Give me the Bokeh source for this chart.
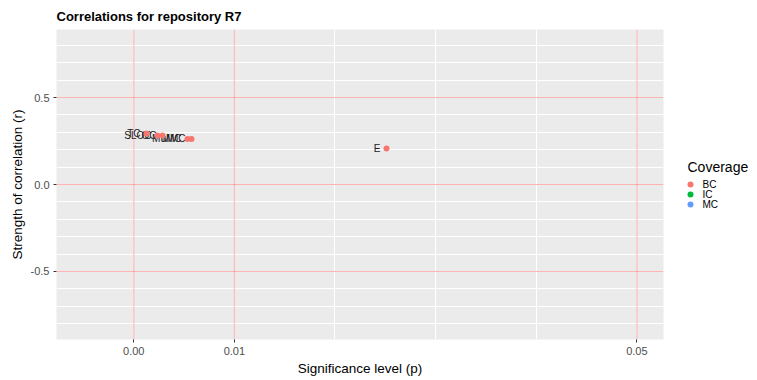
from bokeh.plotting import figure
from bokeh.layouts import row
from bokeh.models import (Range1d, FixedTicker, NumeralTickFormatter, Span,
                          ColumnDataSource)
from bokeh.core.properties import value
from bokeh.embed import file_html
from bokeh.resources import INLINE

# Correlation results for repository R7
metrics = ["TC", "SLOC", "OC", "MuMC", "MMC", "E"]
p_values = [0.00127, 0.00236, 0.00286, 0.00534, 0.00574, 0.02512]
r_values = [0.293, 0.282, 0.282, 0.262, 0.262, 0.207]
coverage = ["BC", "BC", "BC", "BC", "BC", "BC"]

coverage_levels = ["BC", "IC", "MC"]
coverage_colors = ["#F8766D", "#00BA38", "#619CFF"]

x_ticks = [0.0, 0.01, 0.05]
y_ticks = [-0.5, 0.0, 0.5]
x_grid = [0.0, 0.01, 0.02, 0.03, 0.04, 0.05]
y_grid = [-0.8, -0.7, -0.6, -0.5, -0.4, -0.3, -0.2, -0.1, 0.0,
          0.1, 0.2, 0.3, 0.4, 0.5, 0.6, 0.7, 0.8]
p_refs = [0.0, 0.01, 0.05]
r_refs = [-0.5, 0.0, 0.5]

FONT = "Liberation Sans"
color_of = dict(zip(coverage_levels, coverage_colors))

fig = figure(width=665, height=380, output_backend="svg", toolbar_location=None,
             x_range=Range1d(-0.00768, 0.05265), y_range=Range1d(-0.891, 0.891),
             min_border_left=56, min_border_right=2, min_border_top=29,
             min_border_bottom=41,
             x_axis_label="Significance level (p)",
             y_axis_label="Strength of correlation (r)",
             title="Correlations for repository R7")

fig.background_fill_color = "#EBEBEB"
fig.border_fill_color = "white"
fig.outline_line_color = None

# title
fig.title.text_font = FONT
fig.title.text_font_size = "13px"
fig.title.text_font_style = "bold"
fig.title.text_color = "#000000"
fig.title.align = "left"
fig.title.standoff = 11

# grid
fig.xgrid.ticker = FixedTicker(ticks=x_grid)
fig.ygrid.ticker = FixedTicker(ticks=y_grid)
for g in (fig.xgrid, fig.ygrid):
    g.grid_line_color = "white"
    g.grid_line_width = 1
    g.minor_grid_line_color = None

# axes
fig.xaxis.ticker = FixedTicker(ticks=x_ticks)
fig.yaxis.ticker = FixedTicker(ticks=y_ticks)
fig.xaxis.formatter = NumeralTickFormatter(format="0.00")
fig.yaxis.formatter = NumeralTickFormatter(format="0.0")
for ax in (fig.xaxis, fig.yaxis):
    ax.axis_line_color = None
    ax.major_tick_line_color = "#333333"
    ax.major_tick_out = 3
    ax.major_tick_in = 0
    ax.minor_tick_line_color = None
    ax.major_label_text_font = FONT
    ax.major_label_text_font_size = "11px"
    ax.major_label_text_color = "#4D4D4D"
    ax.major_label_standoff = 4
    ax.axis_label_text_font = FONT
    ax.axis_label_text_font_size = "13.5px"
    ax.axis_label_text_font_style = "normal"
    ax.axis_label_text_color = "#000000"
    ax.axis_label_standoff = 3

# reference lines
for v in p_refs:
    fig.add_layout(Span(location=v, dimension="height", line_color="#FF0000",
                        line_alpha=0.3, line_width=1))
for v in r_refs:
    fig.add_layout(Span(location=v, dimension="width", line_color="#FF0000",
                        line_alpha=0.3, line_width=1))

src = ColumnDataSource(dict(p=p_values, r=r_values, label=metrics,
                            color=[color_of[c] for c in coverage]))

fig.text(x="p", y="r", text="label", source=src, text_align="right",
         text_baseline="middle", x_offset=-6, text_font=value(FONT),
         text_font_size="10px", text_color="#1A1A1A")
fig.scatter(x="p", y="r", source=src, size=6, color="color", line_color=None)

# legend panel; the row aligns its frame with the main frame (29..339 px),
# so the y range maps straight onto page pixels measured from the top
leg = figure(width=92, height=380, output_backend="svg", toolbar_location=None,
             x_range=Range1d(0, 92), y_range=Range1d(339, 29),
             x_axis_location=None, y_axis_location=None,
             min_border=0, outline_line_color=None)
leg.grid.visible = False
leg.background_fill_color = "white"
leg.border_fill_color = "white"

key_y = [184 + 10 * i for i in range(len(coverage_levels))]
leg.text(x=[22], y=[166], text=["Coverage"], text_baseline="middle",
         text_align="left", text_font=value(FONT), text_font_size="14px",
         text_color="#000000")
leg.scatter(x=[25] * len(coverage_levels), y=key_y, size=6,
            color=coverage_colors, line_color=None)
leg.text(x=[37] * len(coverage_levels), y=key_y, text=coverage_levels,
         text_baseline="middle", text_align="left", text_font=value(FONT),
         text_font_size="10px", text_color="#000000")

layout = row(fig, leg, spacing=0)

open("out.html", "w").write(file_html(layout, INLINE))
